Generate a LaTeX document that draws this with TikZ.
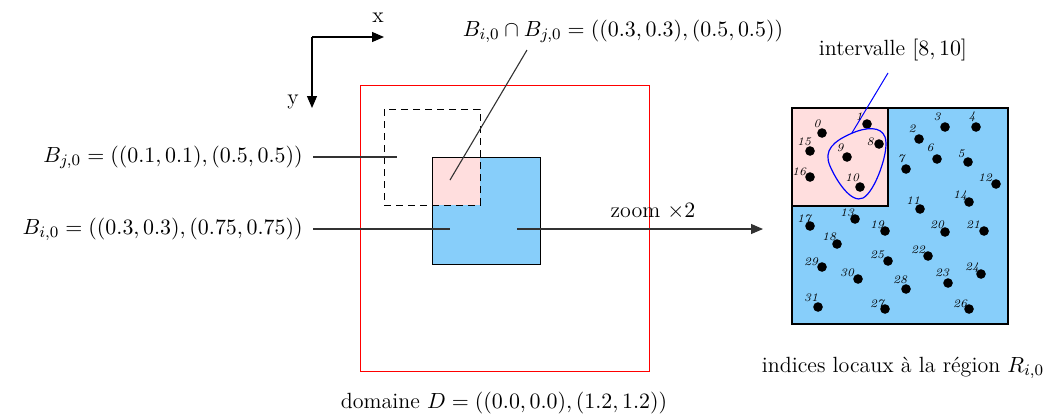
\documentclass[tikz,border=0pt]{standalone}
\usetikzlibrary{arrows.meta}
\definecolor{bblue}{RGB}{135,206,250}
\definecolor{ppink}{RGB}{255,222,222}
\definecolor{lgray}{RGB}{50,50,50}
\begin{document}
\begin{tikzpicture}[x=0.5pt,y=-0.5pt,
  font=\fontsize{11}{13}\selectfont,
  txt/.style={inner sep=0pt},
  num/.style={font=\fontsize{5.8}{6}\selectfont\itshape, inner sep=0pt},
  dotn/.style={circle,fill=black,inner sep=0pt,minimum size=4.8pt},
  lead/.style={draw=lgray, line width=0.55pt},
  arr/.style={-{Triangle[length=6pt,width=5pt]}, line width=0.6pt}]
\useasboundingbox (0,0) rectangle (1047,414);

% axes
\coordinate (O) at (312,37);
\coordinate (X) at (384,37);
\coordinate (Y) at (312,108);
\draw[arr] (O) -- (X);
\draw[arr] (O) -- (Y);
\node[txt] (xl) at (378,18) {x};
\node[txt] (yl) at (293,102) {y};

% domain
\draw[red, line width=0.5pt] (360,85) rectangle (649,371);
\node[txt] (dom) at (504,403) {domaine $D=((0.0,0.0),(1.2,1.2))$};

% B_i
\fill[bblue] (432,157) rectangle (540,264);
\fill[ppink] (432,157) rectangle (480,205);
\draw[line width=0.5pt] (432,157) rectangle (540,264);
% B_j dashed
\draw[dash pattern=on 3.5pt off 2.5pt, line width=0.5pt] (384,109) rectangle (480,205);

% labels
\node[txt, anchor=east] (bj) at (303,157) {$B_{j,0}=((0.1,0.1),(0.5,0.5))$};
\node[txt, anchor=east] (bi) at (303,229) {$B_{i,0}=((0.3,0.3),(0.75,0.75))$};
\node[txt] (inter) at (623,31) {$B_{i,0}\cap B_{j,0}=((0.3,0.3),(0.5,0.5))$};
\coordinate (bjs) at (313,157);
\coordinate (bje) at (397,157);
\coordinate (bis) at (313,229);
\coordinate (bie) at (450,229);
\coordinate (ins) at (450,180);
\coordinate (ine) at (527,50);
\draw[lead] (bjs) -- (bje);
\draw[lead] (bis) -- (bie);
\draw[lead] (ins) -- (ine);

% zoom arrow
\coordinate (zs) at (517,229);
\coordinate (ze) at (763,229);
\draw[arr, draw=lgray] (zs) -- (ze);
\node[txt] (zoom) at (653,211) {zoom $\times 2$};

% region
\fill[bblue] (792,108) rectangle (1008,324);
\fill[ppink] (792,108) rectangle (888,206);
\draw[line width=0.6pt] (792,108) rectangle (888,206);
\draw[line width=0.6pt] (792,108) rectangle (1008,324);

\foreach \dx/\dy/\lx/\ly/\n in {
 822/133/817/124/0, 867/124/859/117/1, 810/151/804/142/15, 879/144/870/142/8,
 847/157/840/148/9, 810/177/799/172/16, 860/187/852/178/10,
 945/127/937/117/3, 976/127/972/117/4, 919/139/912/129/2, 937/159/930/148/6,
 968/162/961/154/5, 906/169/901/159/7, 996/184/985/178/12, 969/202/960/196/14,
 920/209/913/201/11,
 810/226/804/219/17, 855/219/847/213/13, 885/231/877/225/19, 837/244/829/237/18,
 822/267/811/262/29, 888/261/877/255/25, 858/279/847/273/30, 818/307/811/298/31,
 885/309/877/304/27,
 945/232/937/225/20, 984/231/973/225/21, 928/256/918/250/22, 981/274/972/268/24,
 948/283/942/273/23, 906/289/900/280/28, 969/309/960/304/26}
{
 \node[dotn] (d\n) at (\dx,\dy) {};
 \node[num] (l\n) at (\lx,\ly) {\n};
}

% interval loop
\coordinate (lps) at (851.7,133.3);
\draw[blue, line width=0.6pt] (lps)
  .. controls (866,127) and (881,126) .. (885,137)
  .. controls (890,150) and (875,192) .. (863,198)
  .. controls (851,204) and (836,180) .. (830,166)
  .. controls (823,150) and (834,141) .. (lps) -- cycle;
\coordinate (lpe) at (888,73);
\draw[blue, line width=0.5pt] (lps) -- (lpe);
\node[txt] (intv) at (893,50) {intervalle $[8,10]$};

\node[txt] (idx) at (903,368) {indices locaux \`a la r\'egion $R_{i,0}$};
\end{tikzpicture}
\end{document}
